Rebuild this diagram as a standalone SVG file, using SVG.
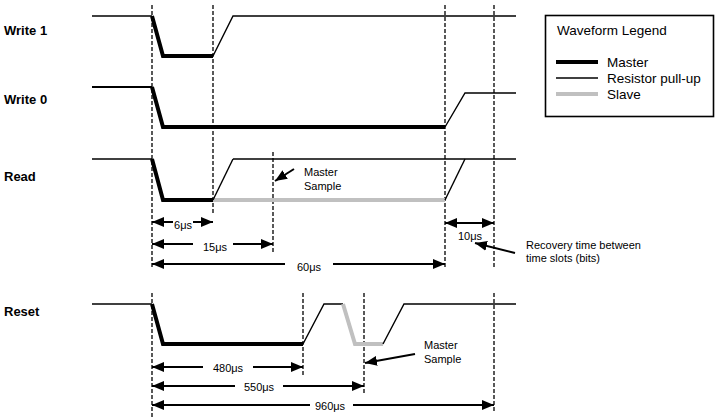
<svg xmlns="http://www.w3.org/2000/svg" width="716" height="419" viewBox="0 0 716 419">
<style>
.bg{fill:#fff}
.thin{fill:none;stroke:#000;stroke-width:1.4;stroke-linejoin:miter}
.thick{fill:none;stroke:#000;stroke-width:4;stroke-linejoin:miter}
.slave{fill:none;stroke:#c0c0c0;stroke-width:4}
.dash{fill:none;stroke:#000;stroke-width:1.3;stroke-dasharray:4 2}
.dim{fill:none;stroke:#000;stroke-width:2;marker-end:url(#ah)}
.ptr{fill:none;stroke:#000;stroke-width:2;marker-end:url(#ah)}
.lbl{font-family:"Liberation Sans",Arial,sans-serif;font-size:13px;font-weight:bold;fill:#000}
.t11{font-family:"Liberation Sans",Arial,sans-serif;font-size:11px;fill:#000}
.t13{font-family:"Liberation Sans",Arial,sans-serif;font-size:13.5px;fill:#000}
</style>
<defs>
<marker id="ah" markerUnits="userSpaceOnUse" markerWidth="12" markerHeight="10" viewBox="0 0 12 10" refX="12" refY="5" orient="auto">
<path d="M0,0 L12,5 L0,10 z" fill="#000"/>
</marker>
</defs>
<rect class="bg" x="0" y="0" width="716" height="419"/>

<g id="guides">
<line class="dash" x1="152" y1="5" x2="152" y2="268"/>
<line class="dash" x1="213" y1="5" x2="213" y2="215"/>
<line class="dash" x1="273" y1="152" x2="273" y2="253"/>
<line class="dash" x1="445" y1="5" x2="445" y2="268"/>
<line class="dash" x1="494" y1="5" x2="494" y2="268"/>
<line class="dash" x1="152" y1="293" x2="152" y2="419"/>
<line class="dash" x1="303" y1="293" x2="303" y2="375"/>
<line class="dash" x1="364" y1="293" x2="364" y2="393"/>
<line class="dash" x1="494" y1="293" x2="494" y2="413"/>
</g>

<g id="write1">
<text class="lbl" x="4" y="35">Write 1</text>
<path class="thin" d="M92,16 L152,16"/>
<path class="thick" d="M152,16 L163,56 L213,56"/>
<path class="thin" d="M213,56 L233,16 L516,16"/>
</g>

<g id="write0">
<text class="lbl" x="4" y="104">Write 0</text>
<path class="thin" style="stroke-width:2" d="M92,87 L152,87"/>
<path class="thick" d="M152,87 L163,127 L445,127"/>
<path class="thin" d="M445,127 L465,93 L516,93"/>
</g>

<g id="read">
<text class="lbl" x="4" y="181">Read</text>
<path class="thin" d="M92,159 L152,159"/>
<path class="thin" d="M233,159 L516,159"/>
<path class="slave" d="M213,200 L445,200"/>
<path class="thick" d="M152,159 L163,200 L213,200"/>
<path class="thin" d="M213,200 L233,159"/>
<path class="thin" d="M445,200 L465,159"/>
<text class="t11" x="304" y="176">Master</text>
<text class="t11" x="304" y="190">Sample</text>
</g>

<g id="reset">
<text class="lbl" x="4" y="316">Reset</text>
<path class="thin" d="M92,304 L152,304"/>
<path class="thick" d="M152,304 L163,344 L303,344"/>
<path class="thin" d="M303,344 L324,304 L343,304"/>
<path class="slave" d="M343,304 L355,344 L383,344"/>
<path class="thin" d="M383,344 L404,304 L516,304"/>
<text class="t11" x="424" y="349">Master</text>
<text class="t11" x="424" y="363">Sample</text>
</g>

<g id="recovery-note">
<text class="t11" x="526" y="249">Recovery time between</text>
<text class="t11" x="526" y="262">time slots (bits)</text>
</g>

<g id="legend">
<rect x="545.5" y="15.5" width="168" height="101" fill="#fff" stroke="#000" stroke-width="1.6"/>
<text class="t13" x="557" y="35">Waveform Legend</text>
<line class="thick" x1="556" y1="62" x2="598" y2="62"/>
<line class="thin" x1="556" y1="78" x2="598" y2="78"/>
<line class="slave" x1="556" y1="94" x2="598" y2="94"/>
<text class="t13" x="607" y="67">Master</text>
<text class="t13" x="607" y="83">Resistor pull-up</text>
<text class="t13" x="607" y="99">Slave</text>
</g>

<g id="connectors">
<path class="dim" d="M173,222 L152,222"/>
<path class="dim" d="M193,222 L213,222"/>
<text class="t11" x="183" y="229" text-anchor="middle">6μs</text>
<path class="dim" d="M193,244 L152,244"/>
<path class="dim" d="M233,244 L273,244"/>
<text class="t11" x="215" y="251" text-anchor="middle">15μs</text>
<path class="dim" d="M285,264 L152,264"/>
<path class="dim" d="M333,264 L445,264"/>
<text class="t11" x="309" y="271" text-anchor="middle">60μs</text>
<path class="dim" d="M470,223 L445,223"/>
<path class="dim" d="M470,223 L494,223"/>
<text class="t11" x="470" y="240" text-anchor="middle">10μs</text>
<path class="dim" d="M203,367 L152,367"/>
<path class="dim" d="M253,367 L303,367"/>
<text class="t11" x="228" y="372" text-anchor="middle">480μs</text>
<path class="dim" d="M235,386 L152,386"/>
<path class="dim" d="M283,386 L364,386"/>
<text class="t11" x="259" y="391" text-anchor="middle">550μs</text>
<path class="dim" d="M310,405 L152,405"/>
<path class="dim" d="M353,405 L494,405"/>
<text class="t11" x="330" y="410" text-anchor="middle">960μs</text>
<path class="ptr" d="M294,169 L275,181"/>
<path class="ptr" d="M415,354 L365,363"/>
<path class="ptr" d="M515,253 L475,243"/>
</g>
</svg>
